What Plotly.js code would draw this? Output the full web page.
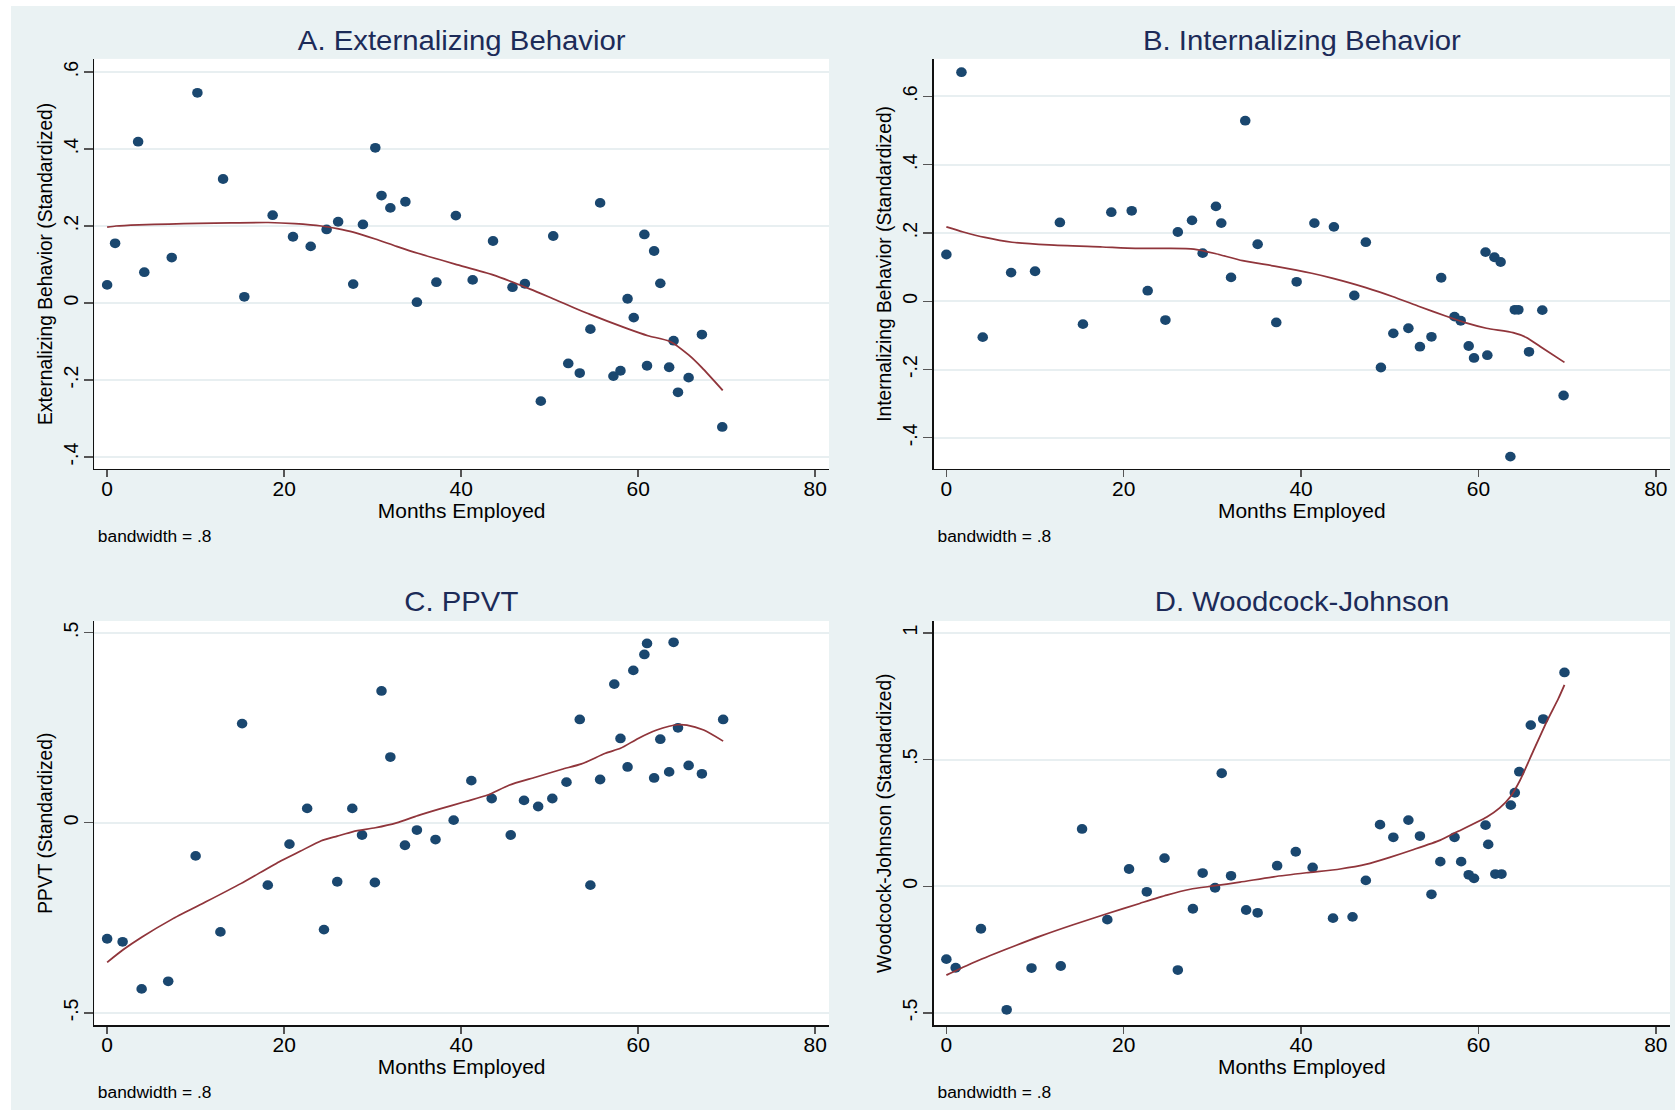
<!DOCTYPE html>
<html><head><meta charset="utf-8">
<script src="https://cdn.plot.ly/plotly-3.0.1.min.js"></script>
<style>
html,body{margin:0;padding:0;background:#fff;overflow:hidden}
#wrap{width:1675px;height:1113px;overflow:hidden;position:relative}
#chart{width:1558px;height:1113px;transform:scaleX(1.0751);transform-origin:0 0}
</style></head><body><div id="wrap"><div id="chart"></div></div>
<script>
// ---------- data ----------
const panelTitles = ["A. Externalizing Behavior", "B. Internalizing Behavior", "C. PPVT", "D. Woodcock-Johnson"];
const yTitles = ["Externalizing Behavior (Standardized)", "Internalizing Behavior (Standardized)", "PPVT (Standardized)", "Woodcock-Johnson (Standardized)"];
const xTitle = "Months Employed";
const noteText = "bandwidth = .8";

const xTickVals = [0, 20, 40, 60, 80];
const yTickValsAB = [-0.4, -0.2, 0, 0.2, 0.4, 0.6];
const yTickTextAB = ["-.4", "-.2", "0", ".2", ".4", ".6"];
const yTickValsC = [-0.5, 0, 0.5];
const yTickTextC = ["-.5", "0", ".5"];
const yTickValsD = [-0.5, 0, 0.5, 1];
const yTickTextD = ["-.5", "0", ".5", "1"];

// Panel A: Externalizing
const xA = [0, 0.9, 3.5, 4.2, 7.3, 10.2, 13.1, 15.5, 18.7, 21.0, 23.0, 24.8, 26.1, 27.8, 28.9, 30.3, 31.0, 32.0, 33.7, 35.0, 37.2, 39.4, 41.3, 43.6, 45.8, 47.2, 49.0, 50.4, 52.1, 53.4, 54.6, 55.7, 57.2, 58.0, 58.8, 59.5, 60.7, 61.0, 61.8, 62.5, 63.5, 64.0, 64.5, 65.7, 67.2, 69.5];
const yA = [0.047, 0.155, 0.419, 0.080, 0.118, 0.546, 0.322, 0.016, 0.228, 0.172, 0.147, 0.191, 0.211, 0.049, 0.204, 0.403, 0.279, 0.247, 0.263, 0.002, 0.054, 0.227, 0.060, 0.161, 0.041, 0.050, -0.255, 0.174, -0.157, -0.182, -0.068, 0.260, -0.190, -0.176, 0.011, -0.038, 0.178, -0.163, 0.135, 0.051, -0.167, -0.098, -0.232, -0.194, -0.082, -0.322];
const lxA = [0, 1, 3.6, 7, 10.3, 14, 18.2, 21.2, 24.2, 26, 27.8, 30.3, 32.7, 35.1, 39.3, 43.6, 47.8, 50.2, 54.5, 58.7, 61.1, 63.6, 65.7, 67.2, 69.55];
const lyA = [0.197, 0.200, 0.203, 0.205, 0.207, 0.208, 0.209, 0.206, 0.200, 0.193, 0.184, 0.166, 0.147, 0.129, 0.101, 0.073, 0.036, 0.013, -0.029, -0.066, -0.085, -0.100, -0.135, -0.168, -0.227];

// Panel B: Internalizing
const xB = [0, 1.7, 4.1, 7.3, 10.0, 12.8, 15.4, 18.6, 20.9, 22.7, 24.7, 26.1, 27.7, 28.9, 30.4, 31.0, 32.1, 33.7, 35.1, 37.2, 39.5, 41.5, 43.7, 46.0, 47.3, 49.0, 50.4, 52.1, 53.4, 54.7, 55.8, 57.3, 58.0, 58.9, 59.5, 60.8, 61.0, 61.8, 62.5, 63.6, 64.1, 64.5, 65.7, 67.2, 69.6];
const yB = [0.137, 0.671, -0.105, 0.084, 0.088, 0.231, -0.067, 0.261, 0.265, 0.031, -0.055, 0.203, 0.237, 0.141, 0.278, 0.229, 0.070, 0.529, 0.167, -0.062, 0.057, 0.229, 0.218, 0.017, 0.173, -0.194, -0.094, -0.079, -0.133, -0.104, 0.069, -0.045, -0.057, -0.131, -0.166, 0.144, -0.158, 0.129, 0.115, -0.455, -0.025, -0.025, -0.148, -0.026, -0.276];
const lxB = [0, 1.9, 4.35, 7.4, 11.6, 17.6, 21.3, 24.9, 27.9, 30.3, 33.4, 37.0, 41.2, 43.6, 47.3, 50.3, 53.4, 56.3, 58.7, 60.9, 63.9, 65.4, 67.0, 69.7];
const lyB = [0.218, 0.203, 0.187, 0.173, 0.165, 0.159, 0.155, 0.155, 0.153, 0.140, 0.119, 0.103, 0.082, 0.067, 0.040, 0.014, -0.016, -0.043, -0.064, -0.079, -0.092, -0.106, -0.133, -0.179];

// Panel C: PPVT
const xC = [0, 1.75, 3.9, 6.9, 10.0, 12.8, 15.25, 18.15, 20.6, 22.6, 24.5, 26.0, 27.7, 28.8, 30.25, 31.0, 32.0, 33.65, 35.0, 37.1, 39.15, 41.15, 43.45, 45.6, 47.1, 48.7, 50.3, 51.9, 53.4, 54.6, 55.7, 57.3, 58.0, 58.8, 59.45, 60.7, 61.0, 61.8, 62.5, 63.5, 64.0, 64.5, 65.7, 67.2, 69.6];
const yC = [-0.305, -0.313, -0.437, -0.417, -0.087, -0.287, 0.261, -0.164, -0.056, 0.038, -0.281, -0.155, 0.038, -0.032, -0.157, 0.347, 0.173, -0.059, -0.019, -0.044, 0.007, 0.111, 0.064, -0.032, 0.059, 0.043, 0.064, 0.107, 0.272, -0.164, 0.114, 0.365, 0.222, 0.147, 0.401, 0.443, 0.472, 0.118, 0.220, 0.134, 0.475, 0.250, 0.151, 0.129, 0.272];
const lxC = [0, 1.8, 3.9, 7.3, 10.9, 15.1, 19.4, 21.8, 24.2, 26.0, 27.8, 30.3, 32.7, 35.1, 37.5, 40.5, 43.0, 45.4, 48.4, 51.4, 53.6, 56.3, 58.0, 60.0, 62.1, 63.5, 64.4, 65.5, 67.4, 69.6];
const lyC = [-0.367, -0.334, -0.301, -0.254, -0.211, -0.160, -0.103, -0.075, -0.047, -0.035, -0.023, -0.013, 0, 0.019, 0.036, 0.056, 0.073, 0.099, 0.120, 0.141, 0.155, 0.183, 0.196, 0.222, 0.244, 0.254, 0.258, 0.257, 0.244, 0.215];

// Panel D: Woodcock-Johnson
const xD = [0, 1.05, 3.9, 6.8, 9.6, 12.9, 15.3, 18.15, 20.6, 22.6, 24.6, 26.1, 27.8, 28.9, 30.3, 31.05, 32.1, 33.8, 35.1, 37.3, 39.4, 41.3, 43.6, 45.8, 47.3, 48.9, 50.4, 52.1, 53.4, 54.7, 55.7, 57.3, 58.05, 58.9, 59.5, 60.8, 61.1, 61.9, 62.6, 63.65, 64.1, 64.6, 65.9, 67.3, 69.7];
const yD = [-0.288, -0.322, -0.168, -0.488, -0.323, -0.315, 0.226, -0.132, 0.068, -0.022, 0.111, -0.331, -0.089, 0.052, -0.006, 0.446, 0.041, -0.094, -0.105, 0.081, 0.136, 0.074, -0.126, -0.121, 0.023, 0.243, 0.193, 0.261, 0.198, -0.032, 0.097, 0.193, 0.097, 0.045, 0.031, 0.241, 0.165, 0.048, 0.048, 0.320, 0.369, 0.452, 0.636, 0.660, 0.844];
const lxD = [0, 3.0, 6.8, 10.6, 14.3, 18.1, 21.8, 24.85, 27.5, 30.1, 33.1, 36.9, 40.6, 44.4, 47.4, 50.0, 52.7, 55.7, 57.6, 60.9, 62.4, 63.6, 64.7, 66.2, 67.7, 69.0, 69.7];
const lyD = [-0.351, -0.302, -0.248, -0.197, -0.152, -0.109, -0.068, -0.035, -0.012, 0.001, 0.016, 0.037, 0.053, 0.068, 0.087, 0.114, 0.145, 0.182, 0.215, 0.272, 0.309, 0.353, 0.419, 0.535, 0.650, 0.740, 0.795];

// ---------- styling ----------
const FONT = "Liberation Sans, Arial, Helvetica, sans-serif";
const BG = "#eaf2f3";
const GRID = "#e8eff1";
const NAVY = "#1a476f";
const MAROON = "#90353b";
const TITLE_COL = "#1c2b58";

const W = 1675, H = 1113;
const domX = [[94.3 / W, 829 / W], [933.6 / W, 1670 / W]];
const domY = [[1 - 468.9 / H, 1 - 58.9 / H], [1 - 1025.4 / H, 1 - 621 / H]];

const panels = [
  {xs: xA, ys: yA, lx: lxA, ly: lyA, xr: [-1.45, 81.56], yr: [-0.431, 0.634], tv: yTickValsAB, tt: yTickTextAB, dx: domX[0], dy: domY[0]},
  {xs: xB, ys: yB, lx: lxB, ly: lyB, xr: [-1.44, 81.6], yr: [-0.491, 0.710], tv: yTickValsAB, tt: yTickTextAB, dx: domX[1], dy: domY[0]},
  {xs: xC, ys: yC, lx: lxC, ly: lyC, xr: [-1.45, 81.56], yr: [-0.533, 0.531], tv: yTickValsC, tt: yTickTextC, dx: domX[0], dy: domY[1]},
  {xs: xD, ys: yD, lx: lxD, ly: lyD, xr: [-1.44, 81.6], yr: [-0.5495, 1.047], tv: yTickValsD, tt: yTickTextD, dx: domX[1], dy: domY[1]}
];

const data = [];
const layout = {
  width: 1558, height: H,
  margin: {l: 0, r: 0, t: 0, b: 0},
  paper_bgcolor: BG, plot_bgcolor: "#ffffff",
  showlegend: false,
  font: {family: FONT, color: "#000"},
  annotations: [], shapes: []
};

panels.forEach((p, i) => {
  const n = i === 0 ? "" : String(i + 1);
  const xa = "x" + n, ya = "y" + n;
  data.push({
    type: "scatter", mode: "markers", x: p.xs, y: p.ys, xaxis: xa, yaxis: ya,
    marker: {color: NAVY, size: 9.8, line: {width: 0}}, hoverinfo: "x+y"
  });
  data.push({
    type: "scatter", mode: "lines", x: p.lx, y: p.ly, xaxis: xa, yaxis: ya,
    line: {color: MAROON, width: 1.7, shape: "spline", smoothing: 0.6}, hoverinfo: "skip"
  });
  layout["xaxis" + n] = {
    domain: p.dx, anchor: ya, range: p.xr, tickvals: xTickVals, ticktext: xTickVals.map(String),
    ticks: "outside", ticklen: 7, tickwidth: 1.3, tickcolor: "#555", ticklabelstandoff: -5,
    showline: true, linecolor: "#111", linewidth: 1.5, showgrid: false, zeroline: false,
    tickfont: {family: FONT, size: 19.5, color: "#000"},
    title: {text: xTitle, font: {family: FONT, size: 19.5, color: "#000"}, standoff: 0},
    fixedrange: true
  };
  layout["yaxis" + n] = {
    domain: p.dy, anchor: xa, range: p.yr, tickvals: p.tv, ticktext: p.tt, tickangle: -90,
    ticks: "outside", ticklen: 8, tickwidth: 1.3, tickcolor: "#555", ticklabelstandoff: -2,
    showline: true, linecolor: "#111", linewidth: 1.5,
    showgrid: true, gridcolor: GRID, gridwidth: 2, zeroline: false,
    tickfont: {family: FONT, size: 19.5, color: "#000"},
    title: {text: yTitles[i], font: {family: FONT, size: 19.2, color: "#000"}, standoff: 0},
    fixedrange: true
  };
  const cx = (p.dx[0] + p.dx[1]) / 2;
  layout.annotations.push({
    xref: "paper", yref: "paper", x: cx, y: i < 2 ? 1 - 41 / H : 1 - 601.4 / H,
    xanchor: "center", yanchor: "middle", showarrow: false,
    text: panelTitles[i], font: {family: FONT, size: 27.3, color: TITLE_COL}
  });
  layout.annotations.push({
    xref: "paper", yref: "paper", x: (i % 2 === 0 ? 95.5 : 934.8) / W, y: i < 2 ? 1 - 535.7 / H : 1 - 1092.2 / H,
    xanchor: "left", yanchor: "middle", showarrow: false,
    text: noteText, font: {family: FONT, size: 16.2, color: "#000"}
  });
});

// white strips around the graph region
layout.shapes.push(
  {type: "rect", xref: "paper", yref: "paper", x0: 0, x1: 11 / W, y0: 0, y1: 1, fillcolor: "#fff", line: {width: 0}, layer: "below"},
  {type: "rect", xref: "paper", yref: "paper", x0: 0, x1: 1, y0: 1 - 6 / H, y1: 1, fillcolor: "#fff", line: {width: 0}, layer: "below"},
  {type: "rect", xref: "paper", yref: "paper", x0: 0, x1: 1, y0: 0, y1: 3 / H, fillcolor: "#fff", line: {width: 0}, layer: "below"}
);

Plotly.newPlot("chart", data, layout, {displayModeBar: false, staticPlot: true});
</script></body></html>
